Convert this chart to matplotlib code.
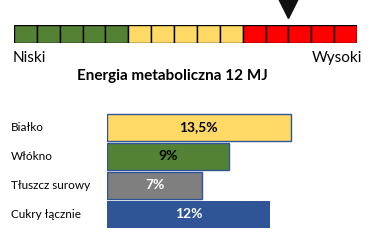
import matplotlib
matplotlib.use('Agg')
import matplotlib.pyplot as plt
from matplotlib.transforms import blended_transform_factory

plt.rcParams['font.family'] = ['Lato', 'DejaVu Sans']

# scale
scale_colors = ['#548235'] * 5 + ['#FFD966'] * 5 + ['#FF0000'] * 5
marker_pos = 12
low_label = 'Niski'
high_label = 'Wysoki'
title = 'Energia metaboliczna 12 MJ'

# bars
categories = ['Białko', 'Włókno', 'Tłuszcz surowy', 'Cukry łącznie']
values = [13.5, 9, 7, 12]
value_labels = ['13,5%', '9%', '7%', '12%']
bar_colors = ['#FFD966', '#548235', '#7F7F7F', '#2F5597']
edge_colors = ['#2F5597', '#2F5597', '#2F5597', 'none']
text_colors = ['black', 'black', 'white', 'white']

W, H = 375, 241
fig = plt.figure(figsize=(W / 100, H / 100), dpi=100)

# scale bar
ax1 = fig.add_axes([14 / W, 1 - 43 / H, 343 / W, 18 / H])
ax1.bar(range(len(scale_colors)), 1, width=1, align='edge',
        color=scale_colors, edgecolor='black', linewidth=1)
ax1.set_xlim(0, len(scale_colors))
ax1.set_ylim(0, 1)
ax1.plot([marker_pos], [1.98], marker='v', color='#111111', markersize=15.5,
         clip_on=False)
ax1.axis('off')

fig.text(13 / W, 1 - 58 / H, low_label, fontsize=11, ha='left', va='center')
fig.text(362 / W, 1 - 58 / H, high_label, fontsize=11, ha='right', va='center')
fig.text(172 / W, 1 - 76 / H, title, fontsize=11, fontweight='bold',
         ha='center', va='center')

# bar chart
ax2 = fig.add_axes([107 / W, 1 - 229 / H, 250 / W, 116 / H])
ax2.barh(range(len(values)), values, height=0.9, color=bar_colors,
         edgecolor=edge_colors, linewidth=1)
ax2.set_xlim(0, 250 / 13.6)
ax2.set_ylim(len(values) - 0.5, -0.5)
ax2.axis('off')
for i, v in enumerate(values):
    ax2.text(v / 2, i, value_labels[i], color=text_colors[i], fontsize=10,
             fontweight='bold', ha='center', va='center')
tr = blended_transform_factory(fig.transFigure, ax2.transData)
for i, c in enumerate(categories):
    ax2.text(11 / W, i, c, transform=tr, fontsize=8.5, ha='left', va='center')

fig.savefig('out.png', dpi=100)
